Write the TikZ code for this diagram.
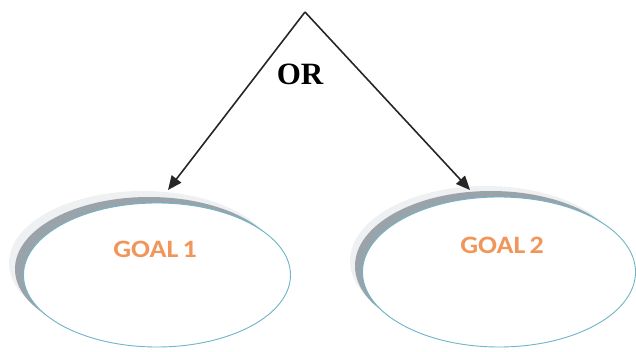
\documentclass[tikz,border=0pt]{standalone}
\usepackage{fontspec}
\setmainfont{Liberation Serif}
\newfontfamily\goalfont{Carlito}
\usetikzlibrary{shapes.geometric,arrows.meta}
\definecolor{rimblue}{RGB}{110,180,200}
\definecolor{shadegray}{RGB}{155,163,170}
\definecolor{hazegray}{RGB}{238,240,241}
\definecolor{goalorange}{RGB}{240,150,90}
\tikzset{
  goalshape/.style={ellipse, draw=rimblue, line width=0.9pt, fill=white, inner sep=0pt},
  goaltext/.style={font=\goalfont\bfseries\fontsize{25}{25}\selectfont, text=goalorange, xscale=1.12},
  ortext/.style={font=\bfseries\fontsize{31}{31}\selectfont},
  arrowline/.style={draw=black!85, line width=1.6pt, -{Triangle[length=14pt,width=12pt]}}
}
\begin{document}
\begin{tikzpicture}[x=1pt,y=-1pt]
\useasboundingbox (0,0) rectangle (636,352);
% goal 1 shadows
\fill[hazegray] (143,263) ellipse [x radius=134, y radius=72];
\fill[shadegray] (149,269) ellipse [x radius=134, y radius=72];
\node[goalshape, minimum width=267pt, minimum height=144pt] (g1) at (157,275) {};
% goal 2 shadows
\fill[hazegray] (486,261) ellipse [x radius=136, y radius=75];
\fill[shadegray] (491,266) ellipse [x radius=136, y radius=75];
\node[goalshape, minimum width=273pt, minimum height=150pt] (g2) at (499,272) {};
\node[goaltext] (l1) at (155,249) {GOAL\hspace{-2pt} 1};
\node[goaltext] (l2) at (502,245) {GOAL\hspace{-2pt} 2};
\coordinate (top) at (305,12);
\coordinate (t1) at (168,190);
\coordinate (t2) at (470,190);
\draw[arrowline] (top) -- (t1);
\draw[arrowline] (top) -- (t2);
\node[ortext] (or) at (300,74) {OR};
\end{tikzpicture}
\end{document}
